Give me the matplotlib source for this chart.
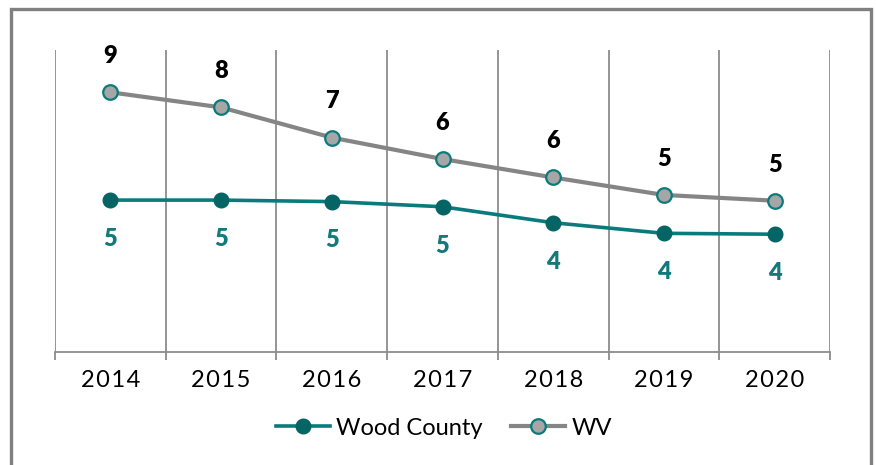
import matplotlib
matplotlib.use("Agg")
import matplotlib.pyplot as plt
import numpy as np
from matplotlib.patches import Rectangle

years = ["2014", "2015", "2016", "2017", "2018", "2019", "2020"]
wood_county = [5.03, 5.03, 4.98, 4.81, 4.28, 3.93, 3.90]
wv = [8.60, 8.10, 7.10, 6.39, 5.78, 5.20, 5.01]
wood_labels = ["5", "5", "5", "5", "4", "4", "4"]
wv_labels = ["9", "8", "7", "6", "6", "5", "5"]

FONT = ["Lato", "DejaVu Sans"]
plt.rcParams["font.family"] = FONT

teal_line = "#0A7B7C"
teal_marker = "#056464"
teal_text = "#14797A"
gray_line = "#858585"
gray_face = "#A6A6A6"
grid_col = "#8C8C8C"

fig = plt.figure(figsize=(8.76, 4.65), dpi=100)
W, H = 876, 465
ax = fig.add_axes([55 / W, (H - 352) / H, (830 - 55) / W, (352 - 50) / H])

x = np.arange(len(years))
ax.plot(x, wv, color=gray_line, lw=3.0, marker="o", ms=10.5,
        mfc=gray_face, mec=teal_line, mew=1.6, label="WV", zorder=3)
ax.plot(x, wood_county, color=teal_line, lw=2.6, marker="o", ms=10.5,
        mfc=teal_marker, mec=teal_marker, label="Wood County", zorder=4)

for xi, v, t in zip(x, wv, wv_labels):
    ax.annotate(t, (xi, v), xytext=(0, 26), textcoords="offset points",
                ha="center", va="center", fontsize=17, fontweight="heavy",
                color="black")
for xi, v, t in zip(x, wood_county, wood_labels):
    ax.annotate(t, (xi, v), xytext=(0, -28), textcoords="offset points",
                ha="center", va="center", fontsize=17, fontweight="heavy",
                color=teal_text)

ax.set_xlim(-0.5, len(years) - 0.5)
ax.set_ylim(0, 10)
ax.set_xticks(x)
ax.set_xticklabels(["\u200a".join(y) for y in years], fontsize=17)
ax.set_xticks(np.arange(len(years) + 1) - 0.5, minor=True)
ax.tick_params(axis="x", which="major", length=0, pad=13, labelcolor="black")
ax.tick_params(axis="x", which="minor", length=6, width=1.3, color=grid_col,
               direction="out")
ax.set_yticks([])
ax.grid(True, axis="x", which="minor", color=grid_col, lw=1.3)
ax.grid(False, axis="x", which="major")
for s in ["top", "right", "left"]:
    ax.spines[s].set_visible(False)
ax.spines["bottom"].set_color(grid_col)
ax.spines["bottom"].set_linewidth(1.3)
ax.set_axisbelow(True)

handles, labels = ax.get_legend_handles_labels()
leg = fig.legend(handles[::-1], labels[::-1], loc="center",
                 bbox_to_anchor=(444 / W, (H - 428) / H), ncol=2,
                 frameon=False, fontsize=17, handlelength=2.3,
                 columnspacing=1.2, handletextpad=0.25)

fig.patches.append(Rectangle((10.5 / W, -0.1), (871 - 10.5) / W, (H - 9.5) / H + 0.1,
                             transform=fig.transFigure, fill=False,
                             edgecolor="#808080", lw=2.4))

fig.savefig("out.png", dpi=100)
